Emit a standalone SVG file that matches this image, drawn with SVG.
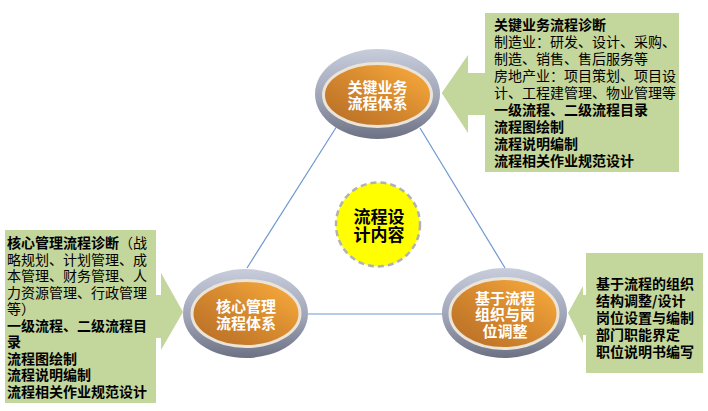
<svg xmlns="http://www.w3.org/2000/svg" width="708" height="411" viewBox="0 0 708 411">
<defs>
<linearGradient id="ring" x1="0" y1="0" x2="0" y2="1">
<stop offset="0" stop-color="#c8cddc"/>
<stop offset="0.55" stop-color="#9ea3b6"/>
<stop offset="1" stop-color="#6c7184"/>
</linearGradient>
<linearGradient id="orange" x1="0.1" y1="0.9" x2="0.9" y2="0.1">
<stop offset="0" stop-color="#bb7128"/>
<stop offset="0.5" stop-color="#d6892e"/>
<stop offset="1" stop-color="#f5a73b"/>
</linearGradient>
</defs>
<style>
.conn{stroke:#6f98cf;stroke-width:1.2;fill:none}
.ring{fill:url(#ring)}
.core{fill:url(#orange);stroke:#ece4d6;stroke-width:3}
.nt{font-family:"Noto Sans CJK SC",sans-serif;font-weight:bold;font-size:15px;fill:#ffffff;text-anchor:middle}
.call{fill:#c3d69b}
.ct{font-family:"Noto Sans CJK SC",sans-serif;font-size:14px;fill:#000000}
.b{font-weight:bold}
.hub{fill:#ffff00;stroke:#b2b2b2;stroke-width:2.5;stroke-dasharray:6 4}
.ht{font-family:"Noto Sans CJK SC",sans-serif;font-weight:bold;font-size:17px;fill:#000000;text-anchor:middle}
</style>
<rect width="708" height="411" fill="#ffffff"/>
<g id="connectors">
<line class="conn" x1="337" y1="126" x2="247" y2="268"/>
<line class="conn" x1="420" y1="128" x2="505" y2="268"/>
<line class="conn" x1="308" y1="314" x2="443" y2="314"/>
</g>
<g id="callout-top">
<path class="call" d="M485,13 H679 V172 H485 V115 H468 V133 L441.7,93 L468,55 V73 H485 Z"/>
<text class="ct" x="494" y="30"><tspan class="b">关键业务流程诊断</tspan><tspan x="494" dy="17">制造业：研发、设计、采购、</tspan><tspan x="494" dy="17">制造、销售、售后服务等</tspan><tspan x="494" dy="17">房地产业：项目策划、项目设</tspan><tspan x="494" dy="17">计、工程建管理、物业管理等</tspan><tspan class="b" x="494" dy="17">一级流程、二级流程目录</tspan><tspan class="b" x="494" dy="17">流程图绘制</tspan><tspan class="b" x="494" dy="17">流程说明编制</tspan><tspan class="b" x="494" dy="17">流程相关作业规范设计</tspan></text>
</g>
<g id="callout-left">
<path class="call" d="M5,230 H156 V295 H161 V273 L183,312 L161,350 V338 H156 V403 H5 Z"/>
<text class="ct" x="7" y="248.3"><tspan class="b">核心管理流程诊断</tspan><tspan>（战</tspan><tspan x="7" dy="16.5">略规划、计划管理、成</tspan><tspan x="7" dy="16.5">本管理、财务管理、人</tspan><tspan x="7" dy="16.5">力资源管理、行政管理</tspan><tspan x="7" dy="16.5">等）</tspan><tspan class="b" x="7" dy="16.5">一级流程、二级流程目</tspan><tspan class="b" x="7" dy="16.5">录</tspan><tspan class="b" x="7" dy="16.5">流程图绘制</tspan><tspan class="b" x="7" dy="16.5">流程说明编制</tspan><tspan class="b" x="7" dy="16.5">流程相关作业规范设计</tspan></text>
</g>
<g id="callout-right">
<path class="call" d="M586,253 H703 V373 H586 V335 H583 V343 L568,313 L583,286 V295 H586 Z"/>
<text class="ct b" x="596" y="289.3"><tspan>基于流程的组织</tspan><tspan x="596" dy="17">结构调整/设计</tspan><tspan x="596" dy="17">岗位设置与编制</tspan><tspan x="596" dy="17">部门职能界定</tspan><tspan x="596" dy="17">职位说明书编写</tspan></text>
</g>
<g id="node-top">
<ellipse class="ring" cx="377.5" cy="94" rx="62.5" ry="45"/>
<ellipse class="core" cx="377.5" cy="95" rx="54" ry="31.5"/>
<text class="nt" x="377.5" y="93"><tspan>关键业务</tspan><tspan x="377.5" dy="16">流程体系</tspan></text>
</g>
<g id="node-left">
<ellipse class="ring" cx="245.5" cy="313.5" rx="62.5" ry="44.5"/>
<ellipse class="core" cx="246" cy="313.5" rx="54" ry="33"/>
<text class="nt" x="246" y="311.7"><tspan>核心管理</tspan><tspan x="246" dy="17">流程体系</tspan></text>
</g>
<g id="node-right">
<ellipse class="ring" cx="504.5" cy="313" rx="62.5" ry="45"/>
<ellipse class="core" cx="504" cy="313.5" rx="54" ry="35"/>
<text class="nt" x="505" y="303.7"><tspan>基于流程</tspan><tspan x="505" dy="16.5">组织与岗</tspan><tspan x="505" dy="16.5">位调整</tspan></text>
</g>
<g id="node-center">
<circle class="hub" cx="378" cy="224.5" r="42"/>
<text class="ht" x="379" y="222.5"><tspan>流程设</tspan><tspan x="379" dy="18">计内容</tspan></text>
</g>
</svg>
